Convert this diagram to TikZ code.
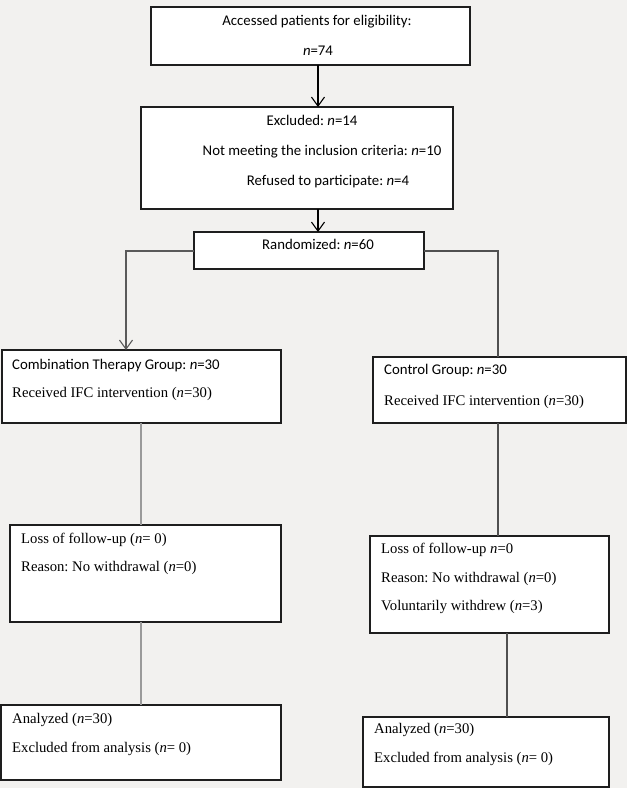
\documentclass[tikz,border=0pt]{standalone}
\usepackage{fontspec}
\setmainfont{Liberation Serif}
\newfontfamily\calfont{Carlito}
\usetikzlibrary{arrows.meta}
\frenchspacing
\definecolor{bg}{HTML}{F2F1EF}
\definecolor{boxline}{HTML}{1E1E1E}
\definecolor{lgray}{HTML}{9A9A9A}
\definecolor{mgray}{HTML}{5A5A5A}
\definecolor{dgray}{HTML}{505050}
\tikzset{
  box/.style={draw=boxline, fill=white, line width=1.3pt, inner sep=0pt, outer sep=0pt},
  ctext/.style={inner sep=0pt, anchor=mid, font=\calfont\fontsize{14.8}{17}\selectfont},
  cltext/.style={inner sep=0pt, anchor=mid west, font=\calfont\fontsize{14.8}{17}\selectfont},
  ttext/.style={inner sep=0pt, anchor=mid west, font=\fontsize{14.7}{17}\selectfont},
  conn/.style={line width=1.1pt},
  arr/.style={conn, -{Straight Barb[length=9pt,width=13pt,line width=1.1pt]}},
}
\begin{document}
\begin{tikzpicture}[x=1pt,y=1pt]
\fill[bg] (0,0) rectangle (627,-788);
\useasboundingbox (0,0) rectangle (627,-788);

% boxes
\node[box, minimum width=319, minimum height=58] (b1) at (310.5,-36) {};
\node[box, minimum width=312, minimum height=102] (b2) at (297,-158) {};
\node[box, minimum width=230, minimum height=37] (b3) at (309,-250.5) {};
\node[box, minimum width=279, minimum height=73] (comb) at (141.5,-386.5) {};
\node[box, minimum width=253, minimum height=66] (ctrl) at (499.5,-390) {};
\node[box, minimum width=271, minimum height=97] (lossL) at (145.5,-573.5) {};
\node[box, minimum width=239, minimum height=97] (lossR) at (489.5,-584.5) {};
\node[box, minimum width=280, minimum height=75] (anaL) at (141,-742.5) {};
\node[box, minimum width=246, minimum height=70] (anaR) at (486,-752) {};

% texts
\node[ctext] (t1a) at (317,-23) {Accessed patients for eligibility:};
\node[ctext] (t1b) at (318,-53) {\textit{n}=74};
\node[ctext] (t2a) at (312,-123) {Excluded: \textit{n}=14};
\node[ctext] (t2b) at (322,-153) {Not meeting the inclusion criteria: \textit{n}=10};
\node[ctext] (t2c) at (328,-183) {Refused to participate: \textit{n}=4};
\node[ctext] (t3) at (318,-247) {Randomized: \textit{n}=60};
\node[cltext] (tca) at (12,-367) {Combination Therapy Group: \textit{n}=30};
\node[ttext] (tcb) at (12,-395) {Received IFC intervention (\textit{n}=30)};
\node[cltext] (tka) at (384,-372) {Control Group: \textit{n}=30};
\node[ttext] (tkb) at (384,-403) {Received IFC intervention (\textit{n}=30)};
\node[ttext] (tla) at (21,-541) {Loss of follow-up (\textit{n}= 0)};
\node[ttext] (tlb) at (21,-569) {Reason: No withdrawal (\textit{n}=0)};
\node[ttext] (tra) at (381,-551) {Loss of follow-up \textit{n}=0};
\node[ttext] (trb) at (381,-580) {Reason: No withdrawal (\textit{n}=0)};
\node[ttext] (trc) at (381,-608) {Voluntarily withdrew (\textit{n}=3)};
\node[ttext] (tal) at (12,-721) {Analyzed (\textit{n}=30)};
\node[ttext] (tbl) at (12,-750) {Excluded from analysis (\textit{n}= 0)};
\node[ttext] (tar) at (374,-731) {Analyzed (\textit{n}=30)};
\node[ttext] (tbr) at (374,-760) {Excluded from analysis (\textit{n}= 0)};

% helper coordinates
\coordinate (ax) at (318,0);
\coordinate (lx) at (126,0);
\coordinate (rx) at (498,0);
\coordinate (llx) at (141,0);
\coordinate (rrx) at (507,0);
\coordinate (ry) at (0,-251);

% connectors
\draw[arr] (b1.south -| ax) -- (b2.north -| ax);
\draw[arr] (b2.south -| ax) -- (b3.north -| ax);
\draw[arr, draw=mgray] (b3.west |- ry) -| (comb.north -| lx);
\draw[conn, draw=dgray] (b3.east |- ry) -| (ctrl.north -| rx);
\draw[conn, draw=lgray] (comb.south -| llx) -- (lossL.north -| llx);
\draw[conn, draw=lgray] (lossL.south -| llx) -- (anaL.north -| llx);
\draw[conn, draw=dgray] (ctrl.south -| rx) -- (lossR.north -| rx);
\draw[conn, draw=dgray] (lossR.south -| rrx) -- (anaR.north -| rrx);
\end{tikzpicture}
\end{document}
